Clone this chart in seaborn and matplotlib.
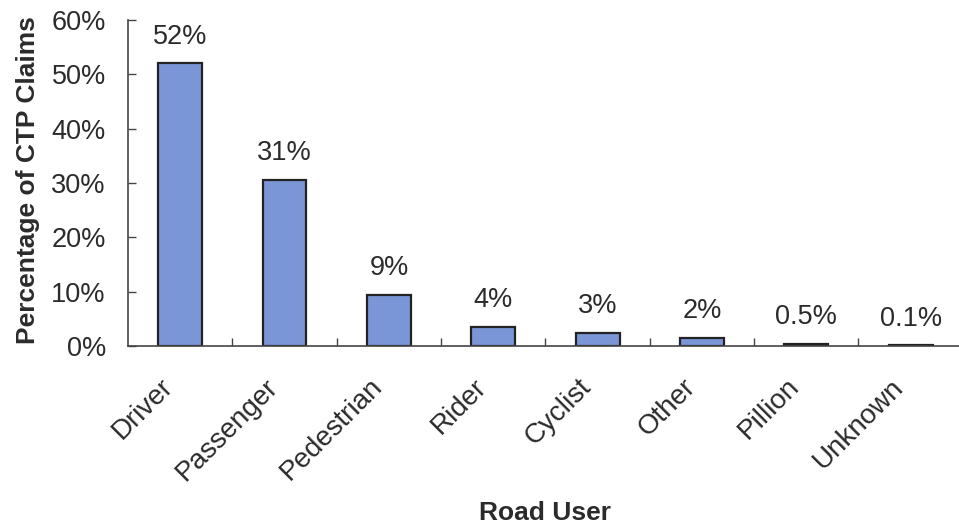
import matplotlib
matplotlib.use("Agg")
import matplotlib.pyplot as plt
import matplotlib.transforms as mtransforms
import seaborn as sns
import pandas as pd
import numpy as np
from matplotlib.ticker import FixedLocator, PercentFormatter

categories = ["Driver", "Passenger", "Pedestrian", "Rider", "Cyclist", "Other", "Pillion", "Unknown"]
values = [52.0, 30.6, 9.4, 3.5, 2.4, 1.5, 0.4, 0.1]
bar_labels = ["52%", "31%", "9%", "4%", "3%", "2%", "0.5%", "0.1%"]

sns.set_theme(style="white")
plt.rcParams['font.family'] = ['Liberation Sans', 'DejaVu Sans']
text_color = "#2b2b2b"

df = pd.DataFrame({"cat": categories, "val": values})

fig = plt.figure(figsize=(9.59, 5.27), dpi=100)
ax = fig.add_axes([0.1335, 0.3435, 0.8705, 0.6185])

sns.barplot(data=df, x="cat", y="val", color="#7b96d6", saturation=1,
            edgecolor="#222222", linewidth=1.6, width=0.42, ax=ax)

ax.set_ylim(0, 60)
ax.set_xlim(-0.5, 7.5)
ax.set_yticks(np.arange(0, 61, 10))
ax.yaxis.set_major_formatter(PercentFormatter(decimals=0))
ax.tick_params(axis="y", direction="in", length=6, width=1, color="#444444",
               labelsize=19.5, labelcolor=text_color, pad=16, left=True)

ax.set_xticks(range(len(categories)))
ax.set_xticklabels(categories, rotation=45, ha="right", rotation_mode="anchor",
                   fontsize=20, color=text_color)
ax.tick_params(axis="x", which="major", length=0, pad=20)
offset = mtransforms.ScaledTranslation(-20 / 100, 0, fig.dpi_scale_trans)
for lab in ax.get_xticklabels():
    lab.set_transform(lab.get_transform() + offset)
ax.xaxis.set_minor_locator(FixedLocator(np.arange(0.5, 7.5, 1)))
ax.tick_params(axis="x", which="minor", direction="in", length=6, width=1,
               color="#444444", bottom=True)

for sp in ["top", "right"]:
    ax.spines[sp].set_visible(False)
for sp in ["left", "bottom"]:
    ax.spines[sp].set_color("#444444")
    ax.spines[sp].set_linewidth(1.2)

for i, (v, lab) in enumerate(zip(values, bar_labels)):
    ax.annotate(lab, (i, v), xytext=(0, 10), textcoords="offset points",
                ha="center", va="bottom", fontsize=19.5, color=text_color)

ax.set_ylabel("Percentage of CTP Claims", fontsize=19, fontweight="bold",
              color=text_color)
ax.set_xlabel("Road User", fontsize=19, fontweight="bold", color=text_color)
ax.xaxis.label.set_va("center")
ax.yaxis.label.set_va("center")
ax.xaxis.set_label_coords(0.5, -0.512)
ax.yaxis.set_label_coords(-0.12, 0.51)

fig.savefig("out.png", dpi=100)
